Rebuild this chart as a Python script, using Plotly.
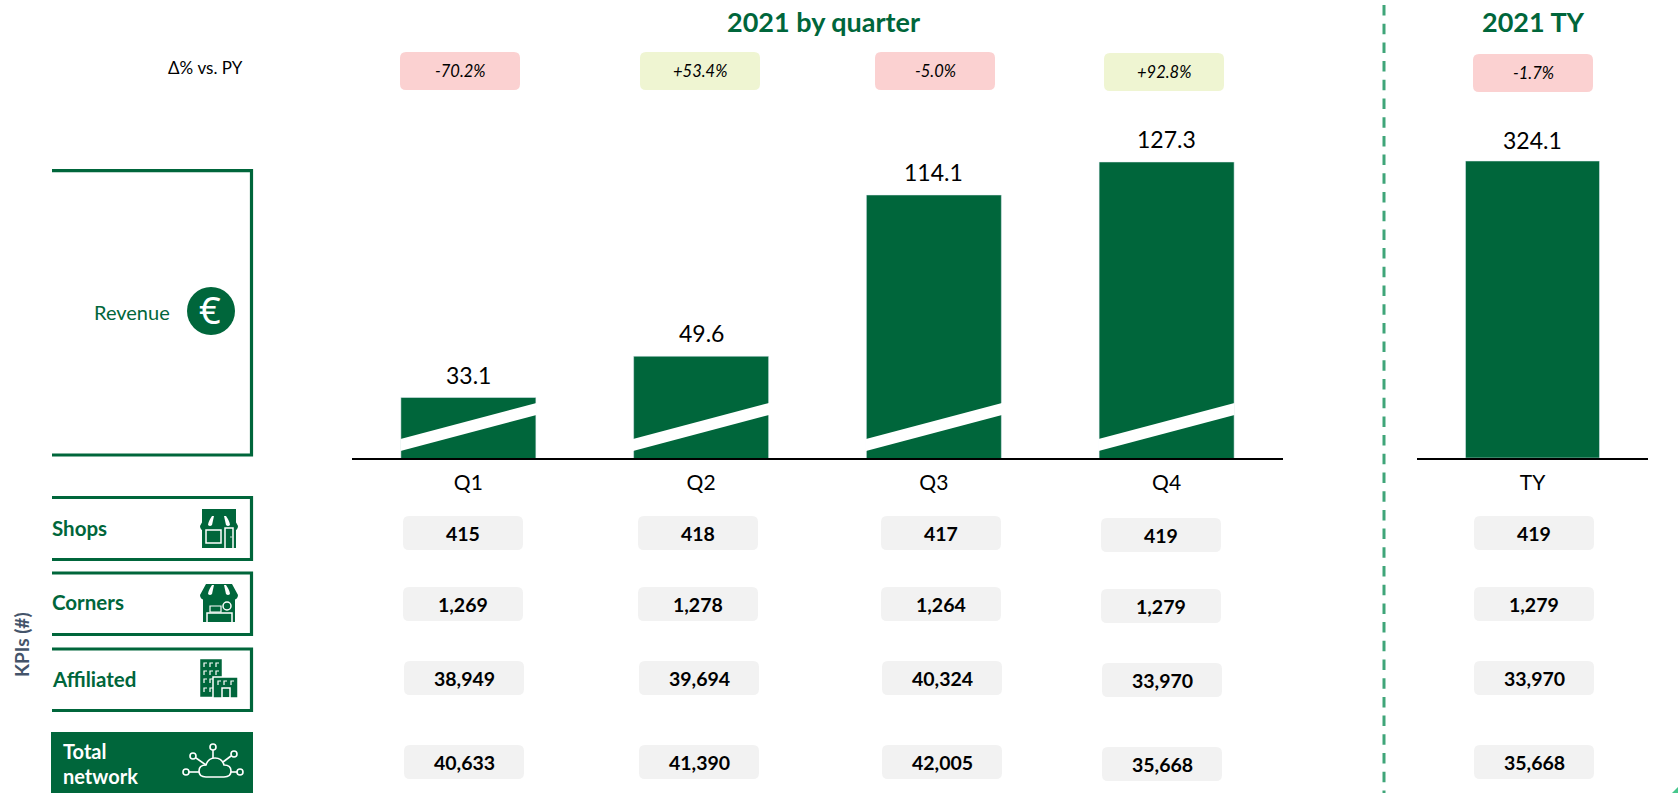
import plotly.graph_objects as go

# values
quarters = ['Q1', 'Q2', 'Q3', 'Q4']
revenue = [33.1, 49.6, 114.1, 127.3]
total_label = ['TY']
total_revenue = [324.1]

delta_labels = ['-70.2%', '+53.4%', '-5.0%', '+92.8%', '-1.7%']
shops = ['415', '418', '417', '419', '419']
corners = ['1,269', '1,278', '1,264', '1,279', '1,279']
affiliated = ['38,949', '39,694', '40,324', '33,970', '33,970']
total_network = ['40,633', '41,390', '42,005', '35,668', '35,668']

W, H = 1678, 793
GREEN = '#00663B'
FONT = 'Lato'
PINK = '#FBD1D1'
LIME = '#EFF5D2'
GREY = '#F2F2F2'
BAR_COLOR = GREEN


def rounded(x0, y0, x1, y1, r=6):
    return (f'M{x0+r},{y0} L{x1-r},{y0} Q{x1},{y0} {x1},{y0+r} L{x1},{y1-r} Q{x1},{y1} {x1-r},{y1} '
            f'L{x0+r},{y1} Q{x0},{y1} {x0},{y1-r} L{x0},{y0+r} Q{x0},{y0} {x0+r},{y0} Z')


shapes = []
annotations = []


def path(d, fill=None, line=None, width=0):
    shapes.append(dict(type='path', path=d, xref='x3', yref='y3', layer='above',
                       fillcolor=fill if fill else 'rgba(0,0,0,0)',
                       line=dict(color=line if line else 'rgba(0,0,0,0)', width=width)))


def box(x0, y0, x1, y1, **kw):
    path(f'M{x0},{y0} L{x1},{y0} L{x1},{y1} L{x0},{y1} Z', **kw)


def circle(cx, cy, r, fill=None, line=None, width=0):
    shapes.append(dict(type='circle', x0=cx-r, x1=cx+r, y0=cy-r, y1=cy+r, xref='x3', yref='y3', layer='above',
                       fillcolor=fill if fill else 'rgba(0,0,0,0)',
                       line=dict(color=line if line else 'rgba(0,0,0,0)', width=width)))


def label(x, y, text, size=16, color='black', anchor='center', angle=0, family=FONT):
    annotations.append(dict(x=x, y=y, xref='x3', yref='y3', text=text, showarrow=False, xanchor=anchor,
                            yanchor='middle', textangle=angle, font=dict(family=family, size=size, color=color)))


def awning(x, y):
    # scalloped shop awning, 38 wide and about 16 high
    path(f'M{x+6},{y} L{x+32},{y} L{x+38},{y+11} Q{x+38},{y+16} {x+32},{y+16} Q{x+28},{y+16} {x+25.5},{y+13} '
         f'Q{x+22},{y+16} {x+19},{y+16} Q{x+16},{y+16} {x+12.5},{y+13} Q{x+10},{y+16} {x+6},{y+16} '
         f'Q{x},{y+16} {x},{y+11} Z', fill=GREEN)
    path(f'M{x+12},{y+1} Q{x+8},{y+7} {x+8},{y+10} Q{x+10},{y+12} {x+12},{y+10} L{x+14},{y+1} Z', fill='white')
    path(f'M{x+24},{y+1} L{x+26},{y+10} Q{x+28},{y+12} {x+30},{y+10} Q{x+30},{y+7} {x+26},{y+1} Z', fill='white')


# open boxes on the left
for top, bottom in [(170.7, 455), (497.5, 559.5), (573, 634.5), (649, 710.5)]:
    path(f'M52,{top} L251.5,{top} L251.5,{bottom} L52,{bottom}', line=GREEN, width=3.2)
box(51, 732, 253, 793, fill=GREEN)

# axis break on the quarter bars
for center in [468.5, 701, 934, 1166.5]:
    path(f'M{center-68},439 L{center+68},403 L{center+68},415 L{center-68},451 Z', fill='white')

# divider
shapes.append(dict(type='line', x0=1384, x1=1384, y0=5, y1=793, xref='x3', yref='y3', layer='above',
                   line=dict(color='#3FA579', width=3, dash='10.5px,8.2px')))
path(f'M{W},787 L{W},{H} L1672,{H} Z', fill='#45C78C')

# pills
delta_x = [400, 640, 875, 1104, 1473]
delta_y = [52, 52, 52, 53, 54]
for x, y, text in zip(delta_x, delta_y, delta_labels):
    path(rounded(x, y, x+120, y+38), fill=LIME if text.startswith('+') else PINK)
    label(x+60, y+19, f'<i>{text}</i>', size=16.5)

row_x = [403, 638, 881, 1101, 1474]
row_y = {'shops': 516, 'corners': 587, 'affiliated': 661, 'total': 745}
row_values = {'shops': shops, 'corners': corners, 'affiliated': affiliated, 'total': total_network}
for row, values in row_values.items():
    for i, (x, text) in enumerate(zip(row_x, values)):
        y = row_y[row] + (2 if i == 3 else 0)
        x = x + (1 if row in ('affiliated', 'total') and i < 4 else 0)
        path(rounded(x, y, x+120, y+34), fill=GREY)
        label(x+60, y+17, f'<b>{text}</b>', size=19.5)

# headings and row names
label(823, 21, '<b>2021 by quarter</b>', size=27, color=GREEN)
label(1533, 21, '<b>2021 TY</b>', size=27, color=GREEN)
label(166, 67, 'Δ% vs. PY', size=17, anchor='left')
label(92, 312, 'Revenue', size=20, color=GREEN, anchor='left')
label(50, 528, '<b>Shops</b>', size=20.5, color=GREEN, anchor='left')
label(50, 602, '<b>Corners</b>', size=20.5, color=GREEN, anchor='left')
label(50, 679, '<b>Affiliated</b>', size=20.5, color=GREEN, anchor='left')
label(61, 751, '<b>Total</b>', size=20, color='white', anchor='left')
label(61, 776, '<b>network</b>', size=20, color='white', anchor='left')
label(21, 645, '<b>KPIs (#)</b>', size=19, color='#44546A', angle=-90)

# euro badge
circle(211, 311, 24, fill=GREEN)
label(210, 309, '€', size=38, color='white', family='Noto Sans')

# shop icon
box(202, 509, 236, 548, fill=GREEN)
awning(200, 515)
box(206, 530, 221, 543, line='white', width=1.5)
box(225, 528, 233, 549, line='white', width=1.5)
circle(231, 537, 0.7, fill='white')

# corner icon
box(203, 596, 235, 622, fill=GREEN)
awning(200, 584)
box(210, 606, 221, 612, line='white', width=1.2)
circle(227, 606, 4, fill=GREEN, line='white', width=1.5)
box(207, 613, 232, 623, line='white', width=1.5)

# affiliated icon
box(200, 659, 222, 697, fill=GREEN, line='white', width=0.5)
for wy in [663, 671, 679, 688]:
    for wx in [204, 210, 216]:
        if wx == 216 and wy > 671:
            continue
        path(f'M{wx+3},{wy} L{wx},{wy} L{wx},{wy+4}', line='white', width=1.2)
box(213, 677, 238, 698, fill=GREEN, line='white', width=1.5)
for wx in [218, 224, 231]:
    path(f'M{wx+3},{681} L{wx},{681} L{wx},{685}', line='white', width=1.2)
box(222, 688, 230, 698, line='white', width=1.5)

# network icon
path('M206,777 Q199,777 199,771 Q199,765 206,765 Q208,758 215,758 Q222,758 224,765 Q231,765 231,771 '
     'Q231,777 224,777 Z', line='white', width=1.6)
for x0, y0, x1, y1 in [(213, 750, 213, 758), (196, 758, 206, 765), (231, 756, 223, 762),
                       (189, 772, 199, 772), (231, 772, 237, 772)]:
    path(f'M{x0},{y0} L{x1},{y1}', line='white', width=1.6)
for cx, cy in [(213, 747), (193, 756), (234, 754), (186, 772), (240, 772)]:
    circle(cx, cy, 3, line='white', width=1.6)

# value labels sit well above the bars, further than bar text would allow
for name, value in zip(quarters, revenue):
    annotations.append(dict(x=name, y=value, xref='x', yref='y', text=f'{value:.1f}', showarrow=False, yshift=23,
                            yanchor='middle', font=dict(family=FONT, size=23, color='black')))
for name, value in zip(total_label, total_revenue):
    annotations.append(dict(x=name, y=value, xref='x2', yref='y2', text=f'{value:.1f}', showarrow=False, yshift=21,
                            yanchor='middle', font=dict(family=FONT, size=23, color='black')))

fig = go.Figure()
fig.add_trace(go.Bar(x=quarters, y=revenue, marker_color=BAR_COLOR, showlegend=False))
fig.add_trace(go.Bar(x=total_label, y=total_revenue, marker_color=BAR_COLOR, xaxis='x2', yaxis='y2',
                     showlegend=False))

axis_bottom = (H - 458) / H
axis_top = (H - 100) / H
x_style = dict(showline=True, linecolor='black', linewidth=2, showgrid=False, zeroline=False, ticks='',
               ticklabelstandoff=5, tickfont=dict(family=FONT, size=21, color='black'))
y_style = dict(visible=False, showgrid=False, zeroline=False)

fig.update_layout(
    width=W,
    height=H,
    margin=dict(l=0, r=0, t=0, b=0),
    paper_bgcolor='white',
    plot_bgcolor='rgba(0,0,0,0)',
    bargap=0.42,
    showlegend=False,
    xaxis=dict(domain=[352 / W, 1283 / W], anchor='y', **x_style),
    yaxis=dict(domain=[axis_bottom, axis_top], anchor='x', range=[8.9, 152.1], **y_style),
    xaxis2=dict(domain=[1417 / W, 1648 / W], anchor='y2', **x_style),
    yaxis2=dict(domain=[axis_bottom, axis_top], anchor='x2', range=[0, 390.7], **y_style),
    xaxis3=dict(domain=[0, 1], range=[0, W], anchor='y3', visible=False),
    yaxis3=dict(domain=[0, 1], range=[H, 0], anchor='x3', visible=False),
    shapes=shapes,
    annotations=annotations,
)

fig.write_html('out.html', config={'displayModeBar': False},
               post_script="document.body.style.margin='0';document.body.style.overflow='hidden';")
